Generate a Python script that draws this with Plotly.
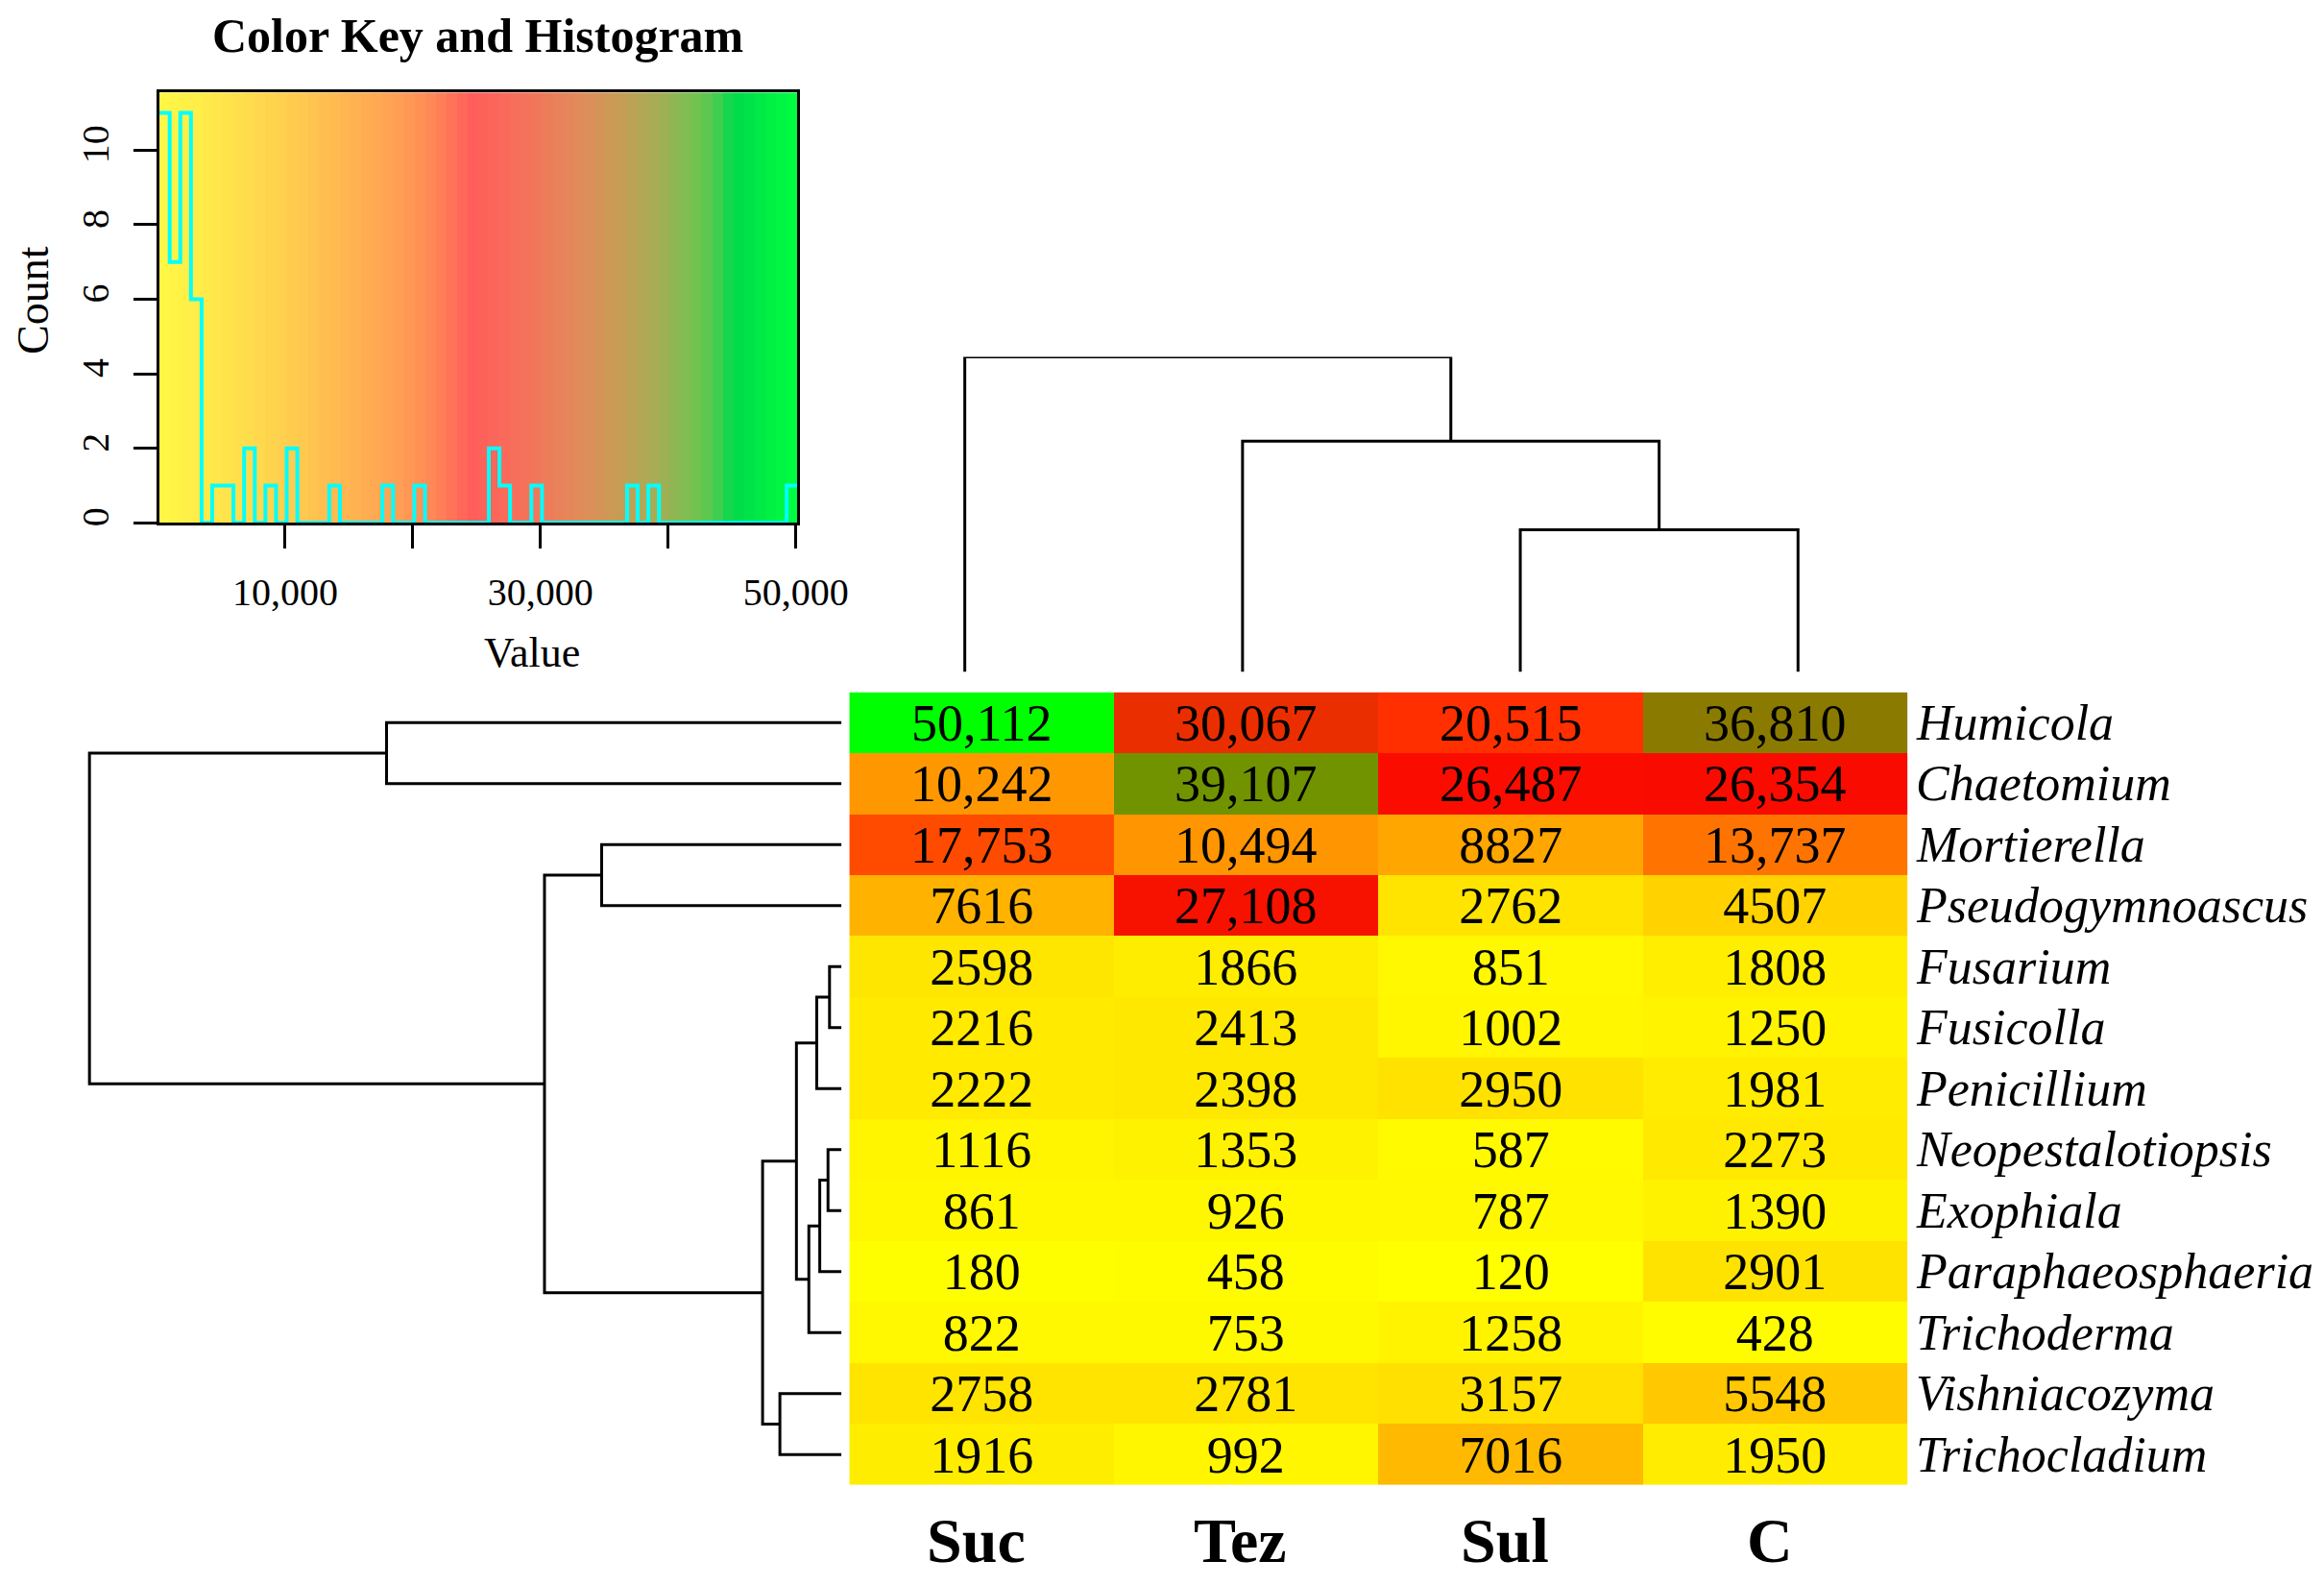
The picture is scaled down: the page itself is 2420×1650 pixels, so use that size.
import numpy as np
import plotly.graph_objects as go

# Data
genera = ["Humicola", "Chaetomium", "Mortierella", "Pseudogymnoascus", "Fusarium",
          "Fusicolla", "Penicillium", "Neopestalotiopsis", "Exophiala",
          "Paraphaeosphaeria", "Trichoderma", "Vishniacozyma", "Trichocladium"]
treatments = ["Suc", "Tez", "Sul", "C"]

suc = [50112, 10242, 17753, 7616, 2598, 2216, 2222, 1116, 861, 180, 822, 2758, 1916]
tez = [30067, 39107, 10494, 27108, 1866, 2413, 2398, 1353, 926, 458, 753, 2781, 992]
sul = [20515, 26487, 8827, 2762, 851, 1002, 2950, 587, 787, 120, 1258, 3157, 7016]
ctrl = [36810, 26354, 13737, 4507, 1808, 1250, 1981, 2273, 1390, 2901, 428, 5548, 1950]

# dendrogram merges (left, right, height), clusters named n0, n1, ...
row_merges = [
    ("Fusarium", "Fusicolla", 1.6),
    ("Neopestalotiopsis", "Exophiala", 1.8),
    ("n1", "Paraphaeosphaeria", 2.9),
    ("n0", "Penicillium", 3.3),
    ("n2", "Trichoderma", 4.35),
    ("n3", "n4", 6.0),
    ("Vishniacozyma", "Trichocladium", 8.2),
    ("n5", "n6", 10.5),
    ("Mortierella", "Pseudogymnoascus", 31.9),
    ("n8", "n7", 39.5),
    ("Humicola", "Chaetomium", 60.5),
    ("n10", "n9", 100.0),
]
col_merges = [
    ("Sul", "C", 45.1),
    ("Tez", "n0", 73.2),
    ("Suc", "n1", 100.0),
]

z = np.array([suc, tez, sul, ctrl]).T
vmin, vmax = z.min(), z.max()
cell_text = [[f"{v:,}" if v >= 10000 else str(v) for v in row] for row in z]

# histogram of the values (60 bins, as in the colour key)
counts, edges = np.histogram(z.flatten(), bins=60, range=(vmin, vmax))
centers = (edges[:-1] + edges[1:]) / 2
ytop = counts.max() * 1.05

heat_scale = [[0, "#FFFF00"], [0.5, "#FF0000"], [0.6, "#EB2E00"],
              [0.74, "#867F00"], [1, "#00FF00"]]
key_scale = [[0, "#FFF845"], [0.125, "#FFE04C"], [0.26, "#FFBF50"], [0.36, "#FFA453"],
             [0.42, "#FF8C56"], [0.49, "#FF5E5A"], [0.575, "#F5725A"], [0.655, "#E28A5A"],
             [0.72, "#C89C55"], [0.785, "#A3AE55"], [0.845, "#6EC450"], [0.87, "#4CCC50"],
             [0.9, "#00DA4A"], [1, "#00FF40"]]

# page geometry (how the page lands in the photographed picture)
W, H = 2470, 1634
HS, HOFF = 0.9766, 8.4
VS, VOFF = 0.997, 7.8


def lx(px):
    return (px - HOFF) / HS


def fx(px):
    return lx(px) / W


def fy(px):
    return 1 - ((px - VOFF) / VS) / H


def dendro_lines(leaves, merges):
    pos = {name: float(i) for i, name in enumerate(leaves)}
    hgt = {name: 0.0 for name in leaves}
    hs, ps = [], []
    for k, (a, b, h) in enumerate(merges):
        hs += [hgt[a], h, h, hgt[b], None]
        ps += [pos[a], pos[a], pos[b], pos[b], None]
        pos[f"n{k}"] = (pos[a] + pos[b]) / 2
        hgt[f"n{k}"] = h
    return hs, ps


fig = go.Figure()

# colour key background + histogram
fig.add_trace(go.Heatmap(
    x=edges, y=[0, ytop], z=[centers], colorscale=key_scale,
    zmin=vmin, zmax=vmax, showscale=False, hoverinfo="skip",
    xaxis="x", yaxis="y"
))
fig.add_trace(go.Scatter(
    x=edges, y=np.append(counts, counts[-1]), mode="lines",
    line=dict(color="#00FFFF", width=4, shape="hv"),
    showlegend=False, xaxis="x", yaxis="y"
))

# main heatmap
fig.add_trace(go.Heatmap(
    z=z, x=list(range(len(treatments))), y=list(range(len(genera))),
    colorscale=heat_scale, zmin=vmin, zmax=vmax, showscale=False,
    text=cell_text, texttemplate="%{text}",
    textfont=dict(family="Liberation Serif", size=54, color="black"),
    xaxis="x2", yaxis="y2"
))

# row dendrogram
rh, rp = dendro_lines(genera, row_merges)
fig.add_trace(go.Scatter(
    x=rh, y=rp, mode="lines", line=dict(color="black", width=3),
    showlegend=False, hoverinfo="skip", cliponaxis=False, xaxis="x3", yaxis="y3"
))

# column dendrogram
ch, cp = dendro_lines(treatments, col_merges)
fig.add_trace(go.Scatter(
    x=cp, y=ch, mode="lines", line=dict(color="black", width=3),
    showlegend=False, hoverinfo="skip", cliponaxis=False, xaxis="x4", yaxis="y4"
))

heat_x = [fx(883), fx(1983)]
heat_y = [fy(1545), fy(720)]
axis_font = dict(family="Liberation Serif", size=40, color="black")
row_unit = (lx(875) - lx(93.4)) / 100

fig.update_layout(
    width=W, height=H, autosize=False,
    margin=dict(l=0, r=0, t=0, b=0),
    paper_bgcolor="white", plot_bgcolor="white",
    font=dict(family="Liberation Serif", color="black"),
    showlegend=False,
    xaxis=dict(domain=[fx(165.7), fx(829)], anchor="y", range=[vmin, vmax],
               tickvals=[10000, 20000, 30000, 40000, 50000],
               ticktext=["10,000", "", "30,000", "", "50,000"],
               ticks="outside", ticklen=24, tickwidth=3, tickcolor="black",
               ticklabelstandoff=11, tickfont=axis_font,
               showline=True, mirror=True, linecolor="black", linewidth=3,
               showgrid=False, zeroline=False),
    yaxis=dict(domain=[fy(543.7), fy(96)], anchor="x", range=[0, ytop],
               tickvals=[0, 2, 4, 6, 8, 10], tickangle=-90,
               ticks="outside", ticklen=24, tickwidth=3, tickcolor="black",
               ticklabelstandoff=10, tickfont=axis_font,
               showline=True, mirror=True, linecolor="black", linewidth=3,
               showgrid=False, zeroline=False),
    xaxis2=dict(domain=heat_x, anchor="y2", range=[-0.5, 3.5], visible=False),
    yaxis2=dict(domain=heat_y, anchor="x2", range=[12.5, -0.5], visible=False),
    xaxis3=dict(domain=[0, fx(875)], anchor="y3", range=[lx(875) / row_unit, 0],
                visible=False),
    yaxis3=dict(domain=heat_y, anchor="x3", range=[12.5, -0.5], visible=False),
    xaxis4=dict(domain=heat_x, anchor="y4", range=[-0.416, 3.395], visible=False),
    yaxis4=dict(domain=[fy(699), fy(371)], anchor="x4", range=[0, 100], visible=False),
)

annotations = [
    dict(text="<b>Color Key and Histogram</b>", x=fx(497), y=fy(37),
         xref="paper", yref="paper", xanchor="center", yanchor="middle", showarrow=False,
         font=dict(family="Liberation Serif", size=50, color="black")),
    dict(text="Value", x=fx(553), y=fy(679), xref="paper", yref="paper",
         xanchor="center", yanchor="middle", showarrow=False,
         font=dict(family="Liberation Serif", size=44, color="black")),
    dict(text="Count", x=fx(35), y=fy(312), xref="paper", yref="paper",
         xanchor="center", yanchor="middle", textangle=-90, showarrow=False,
         font=dict(family="Liberation Serif", size=46, color="black")),
]
for i, name in enumerate(genera):
    annotations.append(dict(
        text=f"<i>{name}</i>", x=3.5, y=i, xref="x2", yref="y2", xanchor="left",
        yanchor="middle", xshift=6, showarrow=False,
        font=dict(family="Liberation Serif", size=52, color="black")))
for j, name in enumerate(treatments):
    annotations.append(dict(
        text=f"<b>{name}</b>", x=j, y=fy(1602), xref="x2", yref="paper",
        xanchor="center", yanchor="middle", xshift=-6, showarrow=False,
        font=dict(family="Liberation Serif", size=66, color="black")))
fig.update_layout(annotations=annotations)

fig.write_html("out.html", config={"responsive": False})
